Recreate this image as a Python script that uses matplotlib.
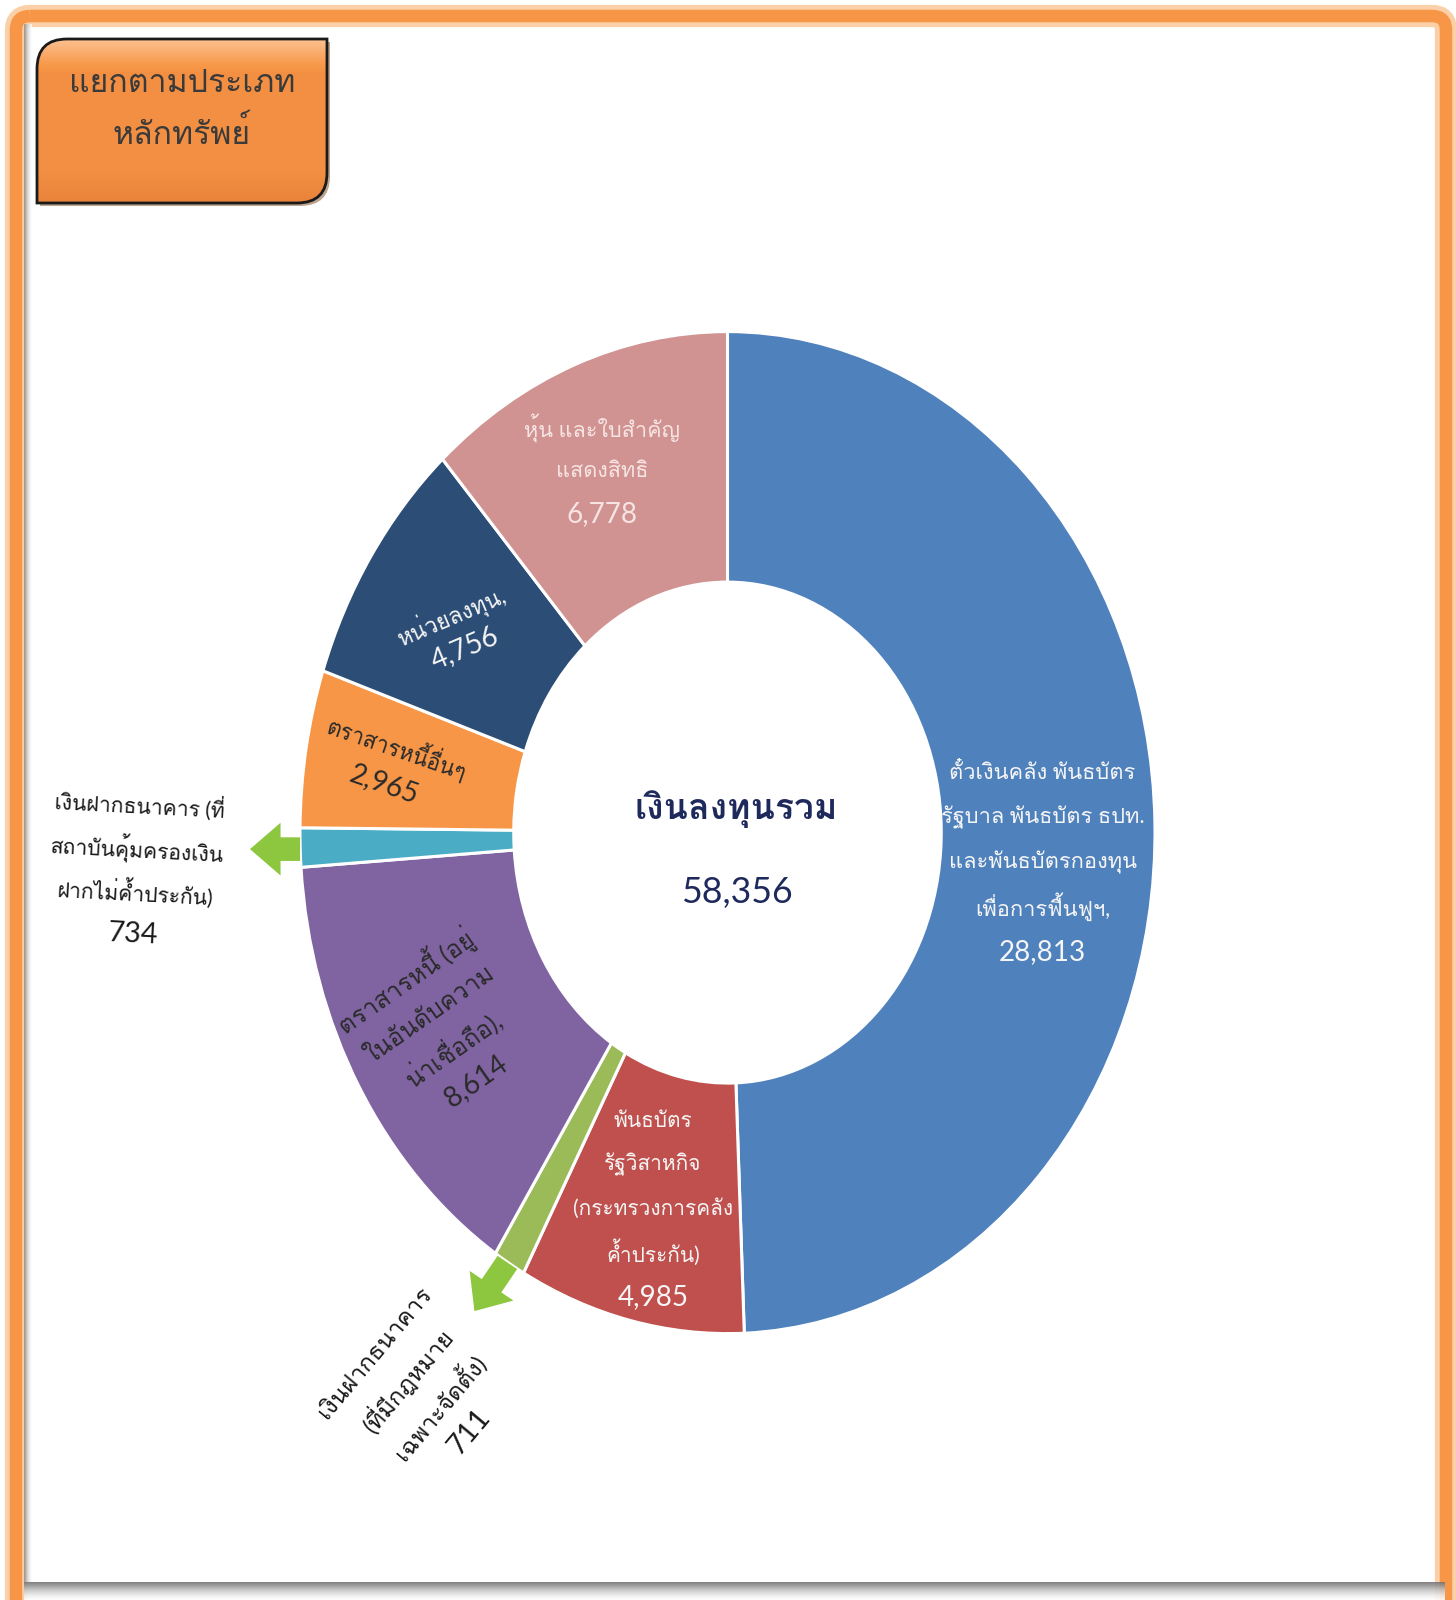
import numpy as np
import matplotlib
matplotlib.use("Agg")
import matplotlib.pyplot as plt
from matplotlib import font_manager
from matplotlib.ft2font import FT2Font
from matplotlib.patches import PathPatch, FancyBboxPatch
from matplotlib.path import Path
from matplotlib.transforms import Affine2D
from matplotlib.colors import LinearSegmentedColormap

# ---- data (clockwise from 12 o'clock) ----
names = [
    "ตั๋วเงินคลัง พันธบัตร\nรัฐบาล พันธบัตร ธปท.\nและพันธบัตรกองทุน\nเพื่อการฟื้นฟูฯ,",
    "พันธบัตร\nรัฐวิสาหกิจ\n(กระทรวงการคลัง\nค้ำประกัน)",
    "เงินฝากธนาคาร\n(ที่มีกฎหมาย\nเฉพาะจัดตั้ง)",
    "ตราสารหนี้ (อยู่\nในอันดับความ\nน่าเชื่อถือ),",
    "เงินฝากธนาคาร (ที่\nสถาบันคุ้มครองเงิน\nฝากไม่ค้ำประกัน)",
    "ตราสารหนี้อื่นๆ",
    "หน่วยลงทุน,",
    "หุ้น และใบสำคัญ\nแสดงสิทธิ",
]
values = [28813, 4985, 711, 8614, 734, 2965, 4756, 6778]
colors = ["#4F81BD", "#C0504D", "#9BBB59", "#8064A2",
          "#4BACC6", "#F79646", "#2C4D75", "#D09392"]
center_title = "เงินลงทุนรวม"
box_title = "แยกตามประเภท\nหลักทรัพย์"


def find_thai_font():
    """Pick an installed family with Thai glyphs; TLWG fonts stack tone marks
    without shaping, so they go first and Noto Thai last."""
    preferred = ["Loma", "Garuda", "Umpush", "Waree", "Tlwg Typo", "Sawasdee",
                 "Laksaman", "Norasi", "Kinnari"]
    found = []
    for f in font_manager.fontManager.ttflist:
        try:
            if 0x0E01 in FT2Font(f.fname).get_charmap():
                found.append(f.name)
        except Exception:
            continue
    for name in preferred:
        if name in found:
            return name
    others = [n for n in found if 'Noto' not in n]
    if others:
        return others[0]
    return found[0] if found else None


thai = find_thai_font()
fams = ['Lato'] + ([thai] if thai else []) + ['DejaVu Sans']
plt.rcParams['font.family'] = fams

W, H = 1456, 1600
fig = plt.figure(figsize=(W / 100, H / 100), dpi=100)
fig.patch.set_facecolor('white')
renderer = fig.canvas.get_renderer()


def fit_size(text, target_w, probe=20, **kw):
    t = fig.text(0, 0, text, fontsize=probe, **kw)
    w = t.get_window_extent(renderer).width
    t.remove()
    return probe * target_w / w


def place_lines(ax, xy, lines, sizes, rot, color, pitch, weight='normal'):
    """Stack single lines along the direction perpendicular to the rotated baseline."""
    th = np.deg2rad(rot)
    dx, dy = np.sin(th), -np.cos(th)
    n = len(lines)
    for i, (line, fs) in enumerate(zip(lines, sizes)):
        off = (i - (n - 1) / 2) * pitch
        tr = ax.transData + Affine2D().translate(off * dx, off * dy)
        ax.text(xy[0], xy[1], line, transform=tr, rotation=rot, rotation_mode='anchor',
                ha='center', va='center', fontsize=fs, color=color,
                fontweight=weight, clip_on=False)


# background axes in pixel coordinates (frame + title box)
bg = fig.add_axes([0, 0, 1, 1], zorder=0)
bg.set_xlim(0, W)
bg.set_ylim(H, 0)
bg.axis('off')

# orange page frame
bg.add_patch(FancyBboxPatch((16, 16), W - 26, H + 40, boxstyle="round,pad=0,rounding_size=14",
                            fc='white', ec='#FBD0A8', lw=16))
bg.add_patch(FancyBboxPatch((16, 16), W - 26, H + 40, boxstyle="round,pad=0,rounding_size=14",
                            fc='none', ec='#F79646', lw=9))
# inner shadows (left edge and bottom)
grad_v = np.linspace(0, 1, 50).reshape(-1, 1)
bg.imshow(grad_v, extent=(24, W - 11, H - 18, H), cmap='Greys', vmin=0, vmax=1.6,
          aspect='auto', alpha=0.9, zorder=1)
grad_h = np.linspace(1, 0, 20).reshape(1, -1)
bg.imshow(grad_h, extent=(24, 32, H - 18, 24), cmap='Greys', vmin=0, vmax=1.8,
          aspect='auto', alpha=0.8, zorder=1)


def diag_round_box(x0, y0, x1, y1, r):
    verts = [(x0, y0 + r), (x0, y0), (x0 + r, y0), (x1, y0), (x1, y1 - r),
             (x1, y1), (x1 - r, y1), (x0, y1), (x0, y0 + r)]
    codes = [Path.MOVETO, Path.CURVE3, Path.CURVE3, Path.LINETO, Path.LINETO,
             Path.CURVE3, Path.CURVE3, Path.LINETO, Path.CLOSEPOLY]
    return Path(verts, codes)


# title box with a soft vertical gradient
box = diag_round_box(37, 39, 327, 203, 30)
bg.add_patch(PathPatch(box.transformed(Affine2D().translate(3, 3)),
                       fc='#7a4a20', ec='none', alpha=0.5, zorder=2))
fill = PathPatch(box, fc='#F79646', ec='none', zorder=3)
bg.add_patch(fill)
gy = np.concatenate([np.linspace(0.0, 0.35, 20), np.full(60, 0.4), np.linspace(0.4, 0.6, 20)])
box_cmap = LinearSegmentedColormap.from_list('box', ['#FCC08E', '#F79646', '#E9833A'])
im = bg.imshow(gy.reshape(-1, 1), extent=(37, 327, 203, 39), cmap=box_cmap,
               vmin=0, vmax=0.6, aspect='auto', zorder=4)
im.set_clip_path(fill)
bg.add_patch(PathPatch(box, fc='none', ec='#1a1a1a', lw=2, zorder=5))
title_lines = box_title.split("\n")
fs_title = fit_size(title_lines[0], 226)
for i, line in enumerate(title_lines):
    bg.text(182, 83 + 50 * i, line, ha='center', va='center', fontsize=fs_title,
            color='#3a3a3a', zorder=6)

# ---- donut (stretched vertically like the original) ----
cx, cy = 727.5, 832.6
rx, ry = 427.5, 501.0
ax = fig.add_axes([(cx - rx) / W, (H - cy - ry) / H, 2 * rx / W, 2 * ry / H], zorder=2)
ax.pie(values, colors=colors, startangle=90, counterclock=False, radius=1,
       wedgeprops=dict(width=0.5, edgecolor='white', linewidth=2.2))
ax.set_aspect('auto')
ax.set_xlim(-1, 1)
ax.set_ylim(-1, 1)
ax.axis('off')

# label layout: centre (axes units), rotation, colour, line pitch (px),
# and which line is fitted to what width (px)
label_style = [
    dict(xy=(0.737, -0.059), rot=0, color='#F5F5F5', pitch=45, fit=(1, 204)),
    dict(xy=(-0.174, -0.751), rot=0, color='#F5F5F5', pitch=44, fit=(2, 160)),
    dict(xy=(-0.714, -1.118), rot=50, color='#1a1a1a', pitch=41, fit=(0, 164)),
    dict(xy=(-0.671, -0.395), rot=35, color='#2a2a2a', pitch=41, fit=(0, 160)),
    dict(xy=(-1.384, -0.075), rot=-3, color='#1a1a1a', pitch=43, fit=(1, 174)),
    dict(xy=(-0.788, 0.133), rot=-19, color='#2a2a2a', pitch=39, fit=(0, 146)),
    dict(xy=(-0.630, 0.401), rot=23, color='#F5F5F5', pitch=35, fit=(0, 116)),
    dict(xy=(-0.294, 0.721), rot=0, color='#F6E4E3', pitch=43, fit=(0, 156)),
]
fs_value = fit_size(f"{values[0]:,}", 87)
fs_value_out = fit_size(f"{values[4]:,}", 50)
outside = {2, 4}

for k, (name, val, st) in enumerate(zip(names, values, label_style)):
    lines = name.split("\n")
    idx, target = st['fit']
    fs_name = fit_size(lines[idx], target)
    sizes = [fs_name] * len(lines) + [fs_value_out if k in outside else fs_value]
    place_lines(ax, st['xy'], lines + [f"{val:,}"], sizes, st['rot'], st['color'], st['pitch'])

# arrows pointing from the two thin slices to their outside labels
arrow = dict(arrowstyle='simple,head_width=1.9,head_length=1.1,tail_width=0.85',
             color='#8DC63F', lw=0, shrinkA=0, shrinkB=0, mutation_scale=20)
ax.annotate('', xy=(-1.117, -0.033), xytext=(-1.0, -0.033), arrowprops=arrow,
            annotation_clip=False)
ax.annotate('', xy=(-0.592, -0.955), xytext=(-0.515, -0.858), arrowprops=arrow,
            annotation_clip=False)

# centre total
fs_center = fit_size(center_title, 203, fontweight='bold')
ax.text(0.021, 0.047, center_title, ha='center', va='center', fontsize=fs_center,
        fontweight='bold', color='#1F2A5C')
ax.text(0.021, -0.120, f"{sum(values):,}", ha='center', va='center',
        fontsize=fit_size(f"{sum(values):,}", 112), color='#1F2A5C')

fig.savefig('out.png', dpi=100)
